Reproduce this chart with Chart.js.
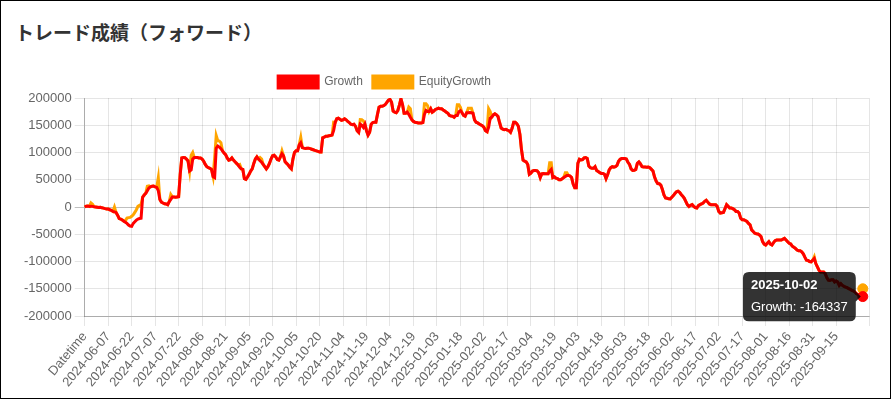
<!DOCTYPE html>
<html>
<head>
<meta charset="utf-8">
<title>トレード成績（フォワード）</title>
<script src="https://cdn.jsdelivr.net/npm/chart.js@4.4.1/dist/chart.umd.min.js"></script>
<style>
  html, body { margin: 0; padding: 0; background: #fff; }
  .panel { position: relative; width: 891px; height: 399px; box-sizing: border-box; border: 1px solid #000; overflow: hidden; background: #fff; }
  .panel h2 { position: absolute; left: 14px; top: 18px; margin: 0; font: bold 19px 'Noto Sans CJK JP', sans-serif; line-height: 26px; color: #333; }
  .chart-box { position: absolute; left: 20px; top: 65px; }
</style>
</head>
<body>
<div class="panel">
  <h2>トレード成績（フォワード）</h2>
  <div class="chart-box"><canvas id="growthChart" width="863" height="327"></canvas></div>
</div>
<script>
// trade results (forward test)

// categories: header row + one label per day (axis runs a few days past the data)
const headerLabel = 'Datetime';
const firstDay = '2024-05-24';
const axisEndDay = '2025-10-06';

const growth = [
  0,
  1500, 2000, 1000, 1500, 1200, 500, 0, -500, -1000, -500,
  -1500, -2000, -3000, -3500, -3700, -5000, -6000, -8000, -9000, -10000,
  -15000, -21000, -22000, -24000, -26000, -28000, -30000, -33000, -35000, -35500,
  -30000, -27000, -24000, -22000, -21000, -20500, 18000, 22000, 25000, 30000,
  35000, 37000, 38000, 38300, 37000, 36000, 30000, 14000, 9000, 7400,
  6000, 5600, 4300, 10000, 14000, 18500, 18500, 18000, 18500, 19000,
  60000, 90000, 91000, 90700, 88000, 84500, 66000, 68000, 88000, 90700,
  90700, 90700, 90000, 90000, 88000, 84000, 78000, 74000, 72000, 71000,
  69000, 56000, 54000, 108000, 112000, 110000, 107000, 103000, 99000, 96000,
  90000, 86000, 87000, 90000, 86000, 83000, 80000, 77000, 73000, 70000,
  69000, 52000, 50600, 55000, 60000, 66000, 70000, 80000, 88000, 92000,
  88000, 85000, 82000, 78000, 74000, 70000, 74000, 80000, 88000, 94000,
  95000, 92000, 87000, 86000, 92000, 98000, 94000, 83000, 80000, 77000,
  73000, 70000, 88000, 100000, 103000, 103000, 114000, 118000, 109000, 108000,
  107500, 108000, 108000, 107000, 106000, 105000, 104000, 103000, 102000, 101000,
  101000, 127000, 128000, 130000, 130000, 130800, 131000, 132000, 140000, 155000,
  162000, 163000, 161000, 159000, 160000, 162000, 160000, 157000, 155000, 152000,
  151000, 152000, 148000, 140000, 137000, 152000, 150000, 146000, 152000, 140000,
  132000, 137000, 152000, 155000, 155500, 155500, 170000, 183000, 185000, 185000,
  186000, 188000, 192000, 196000, 197400, 192000, 176000, 174000, 173000, 177000,
  187000, 198700, 188000, 172000, 172000, 174000, 170000, 164700, 160000, 157000,
  155500, 155000, 154300, 154300, 154300, 155000, 170000, 177100, 175200, 175200,
  180200, 174000, 176000, 179000, 180200, 181400, 180200, 180200, 178000, 176000,
  174000, 172000, 168000, 167000, 166600, 164700, 167800, 167800, 175000, 177000,
  173000, 168000, 166600, 173000, 173000, 173500, 173000, 172000, 160000, 155500,
  154300, 152400, 150500, 149300, 146200, 140100, 138200, 146200, 163000, 165000,
  169000, 171000, 169100, 166000, 155000, 145000, 143000, 142000, 142500, 141000,
  140000, 137000, 144400, 155500, 155500, 153000, 148000, 133000, 105000, 86000,
  84000, 82700, 78000, 60000, 62000, 66000, 67000, 67000, 66500, 63000,
  54000, 61000, 61500, 61100, 61100, 61000, 66000, 69000, 54000, 55500,
  53000, 52000, 50000, 50000, 52000, 54000, 56000, 58000, 58000, 57000,
  54000, 42000, 35200, 35200, 80000, 87600, 86400, 87000, 90000, 90700,
  89000, 75000, 72000, 71000, 71000, 74000, 67000, 65000, 63000, 61700,
  61700, 60000, 52000, 59000, 68000, 72200, 74000, 73000, 74000, 76500,
  84000, 87600, 88800, 88800, 88800, 88000, 82000, 78000, 70000, 67000,
  67500, 69000, 80000, 82700, 79000, 74000, 73400, 73400, 73000, 73400,
  72000, 69000, 66000, 55000, 47500, 43000, 42600, 40000, 32000, 22000,
  16700, 16000, 15000, 14800, 18000, 21000, 24700, 28000, 29000, 27000,
  23000, 20000, 16000, 10000, 4000, 1000, 3000, 4300, 1200, -1000,
  -1900, 2500, 4300, 5600, 7400, 10500, 12300, 9000, 5600, 4300,
  4300, 4300, 4300, 1200, -8000, -11100, -10500, -9900, -3000, 4300,
  1200, -1900, -1900, -3000, -4900, -8000, -8000, -11100, -20400, -23400,
  -23400, -24700, -26500, -30000, -32700, -42000, -45000, -48100, -49000, -49400,
  -51200, -54300, -63600, -67900, -69700, -66600, -63600, -67900, -69700, -65400,
  -61700, -60500, -60500, -60500, -60500, -59000, -57400, -60500, -63600, -66600,
  -67900, -72000, -74000, -75900, -79000, -80200, -80200, -82100, -86000, -92000,
  -97500, -98000, -100000, -100600, -97500, -94400, -103700, -109800, -116000, -119100,
  -119100, -119100, -122200, -129600, -134000, -134500, -133300, -133300, -137600, -135700,
  -137600, -143800, -140700, -143800, -145600, -146800, -148000, -149900, -151000, -153000,
  -154000, -156100, -159200, -160400, -162300, -163000, -164337
];

const equityGrowth = [
  0,
  1500, 2000, 1000, 7400, 5000, 500, 0, -500, -1000, -500,
  -1500, -2000, -3000, -3500, -3700, -5000, -6000, -8000, 0, -10000,
  -15000, -21000, -22000, -24000, -26000, -25000, -20400, -19500, -19000, -17000,
  -14200, -10000, -5000, 1200, 3000, 4300, 18000, 22000, 25000, 38300,
  39000, 37000, 38000, 38300, 37000, 36000, 53700, 14000, 9000, 7400,
  6000, 5600, 4300, 10000, 22800, 18500, 18500, 18000, 18500, 19000,
  60000, 90000, 91000, 90700, 88000, 84500, 66000, 95000, 100000, 90700,
  90700, 90700, 90000, 90000, 88000, 84000, 78000, 74000, 72000, 71000,
  69000, 56000, 90000, 130800, 121500, 121000, 118000, 103000, 99000, 96000,
  90000, 86000, 87000, 90000, 86000, 83000, 80000, 77000, 78000, 70000,
  69000, 52000, 50600, 55000, 60000, 66000, 70000, 80000, 88000, 92000,
  88000, 90700, 88000, 78000, 74000, 70000, 74000, 80000, 88000, 94000,
  95000, 92000, 87000, 86000, 92000, 103000, 94000, 83000, 80000, 77000,
  73000, 70000, 88000, 100000, 103000, 103000, 114000, 127700, 109000, 108000,
  107500, 108000, 108000, 107000, 106000, 105000, 104000, 103000, 102000, 101000,
  101000, 127000, 128000, 130000, 130000, 130800, 131000, 132000, 155500, 155000,
  162000, 163000, 161000, 159000, 160000, 162000, 160000, 157000, 155000, 152000,
  151000, 152000, 148000, 140000, 137000, 160400, 160000, 158000, 152000, 140000,
  132000, 137000, 152000, 155000, 155500, 155500, 170000, 183000, 185000, 185000,
  186000, 188000, 192000, 196000, 197400, 192000, 176000, 174000, 173000, 177000,
  187000, 198700, 188000, 172000, 172000, 174000, 183200, 180200, 160000, 157000,
  155500, 155000, 154300, 154300, 154300, 155000, 189400, 189400, 186000, 175200,
  180200, 174000, 176000, 179000, 180200, 181400, 180200, 180200, 178000, 176000,
  174000, 172000, 168000, 167000, 166600, 164700, 167800, 187600, 187600, 183000,
  173000, 168000, 166600, 173000, 181400, 181400, 181400, 172000, 160000, 155500,
  154300, 152400, 150500, 149300, 146200, 140100, 138200, 180200, 175000, 165000,
  169000, 171000, 169100, 166000, 155000, 145000, 143000, 142000, 142500, 141000,
  140000, 137000, 144400, 155500, 155500, 153000, 148000, 133000, 105000, 86000,
  84000, 82700, 78000, 60000, 62000, 66000, 67000, 67000, 66500, 63000,
  54000, 61000, 61500, 61100, 61100, 61000, 81400, 81400, 54000, 55500,
  53000, 52000, 50000, 50000, 52000, 54000, 62900, 62900, 58000, 57000,
  54000, 42000, 35200, 35200, 80000, 87600, 86400, 87000, 90000, 90700,
  89000, 75000, 72000, 71000, 71000, 74000, 67000, 65000, 63000, 61700,
  61700, 60000, 52000, 59000, 68000, 72200, 74000, 73000, 74000, 76500,
  84000, 87600, 88800, 88800, 88800, 88000, 82000, 78000, 70000, 67000,
  67500, 69000, 80000, 82700, 79000, 74000, 73400, 73400, 73000, 73400,
  72000, 69000, 66000, 55000, 47500, 43000, 42600, 40000, 32000, 22000,
  16700, 16000, 15000, 14800, 18000, 21000, 24700, 28000, 29000, 27000,
  23000, 20000, 16000, 10000, 4000, 1000, 3000, 4300, 1200, -1000,
  -1900, 2500, 4300, 5600, 7400, 10500, 12300, 9000, 5600, 4300,
  4300, 4300, 4300, 1200, -8000, -11100, -10500, -9900, -3000, 4300,
  1200, -1900, -1900, -3000, -4900, -8000, -8000, -11100, -20400, -23400,
  -23400, -24700, -26500, -30000, -32700, -42000, -45000, -48100, -49000, -49400,
  -51200, -54300, -63600, -67900, -69700, -66600, -63600, -67900, -69700, -65400,
  -61700, -60500, -60500, -60500, -60500, -59000, -57400, -60500, -63600, -66600,
  -67900, -72000, -74000, -75900, -79000, -80200, -80200, -82100, -86000, -92000,
  -97500, -98000, -100000, -100600, -97500, -91300, -103700, -109800, -116000, -119100,
  -119100, -119100, -122200, -129600, -134000, -134500, -133300, -133300, -137600, -135700,
  -137600, -143800, -140700, -143800, -145600, -146800, -148000, -149900, -151000, -153000,
  -154000, -156100, -159200, -160400, -162300, -158000, -150000
];

// y axis range
const yMin = -200000;
const yMax = 200000;
const yStep = 50000;
const labelEvery = 15;

// build the daily labels
const labels = [headerLabel];
for (let d = new Date(firstDay + 'T00:00:00Z'); d <= new Date(axisEndDay + 'T00:00:00Z'); d.setUTCDate(d.getUTCDate() + 1)) {
    labels.push(d.toISOString().slice(0, 10));
}
const lastDataIndex = growth.length - 1;

Chart.defaults.font.family = "Arial, 'Liberation Sans', Helvetica, sans-serif";
Chart.defaults.font.size = 13;
Chart.defaults.color = '#666';

// move the legend row a bit to the left like the original page
const legendShift = {
    id: 'legendShift',
    afterLayout(chart) {
        chart.legend.left -= 64;
        chart.legend.right -= 64;
    }
};

const ctx = document.getElementById('growthChart').getContext('2d');
const growthChart = new Chart(ctx, {
    type: 'line',
    data: {
        labels: labels,
        datasets: [{
            label: 'Growth',
            data: growth,
            borderColor: 'red',
            backgroundColor: 'red',
            borderWidth: 3,
            pointRadius: 0,
            pointHoverRadius: 5,
            pointHoverBorderWidth: 1,
            pointHoverBackgroundColor: 'red',
            pointHoverBorderColor: 'red',
            tension: 0,
            fill: false
        }, {
            label: 'EquityGrowth',
            data: equityGrowth,
            borderColor: 'orange',
            backgroundColor: 'orange',
            borderWidth: 3,
            pointRadius: 0,
            pointHoverRadius: 5,
            pointHoverBorderWidth: 1,
            pointHoverBackgroundColor: 'orange',
            pointHoverBorderColor: 'orange',
            tension: 0,
            fill: false
        }]
    },
    options: {
        responsive: false,
        animation: false,
        events: [],
        layout: { padding: { top: 0, right: 8, bottom: 0, left: 0 } },
        plugins: {
            legend: {
                labels: { font: { size: 12 }, boxWidth: 40, boxHeight: 12, padding: 10 }
            },
            tooltip: {
                displayColors: false,
                backgroundColor: 'rgba(0,0,0,0.8)',
                padding: { x: 8, y: 6 },
                titleFont: { size: 13, weight: 'bold' },
                bodyFont: { size: 13 },
                callbacks: {
                    label: (item) => item.dataset.label + ': ' + item.raw
                }
            }
        },
        scales: {
            x: {
                border: { color: 'rgba(0,0,0,0.25)' },
                grid: { color: 'rgba(0,0,0,0.1)', tickLength: 10 },
                ticks: {
                    autoSkip: false,
                    minRotation: 50,
                    maxRotation: 50,
                    // every 15th day gets a label, the last tick only a grid line
                    callback: function (value, index, ticks) {
                        const count = ticks.length;
                        if (index === count - 1) return '';
                        if (index % labelEvery === 0 && index + labelEvery < count) return this.getLabelForValue(value);
                        return null;
                    }
                }
            },
            y: {
                min: yMin,
                max: yMax,
                border: { color: 'rgba(0,0,0,0.25)' },
                grid: {
                    tickLength: 10,
                    color: (c) => (c.tick && c.tick.value === 0) ? 'rgba(0,0,0,0.25)' : 'rgba(0,0,0,0.1)'
                },
                ticks: {
                    stepSize: yStep,
                    padding: 3,
                    callback: (value) => String(value)
                }
            }
        }
    },
    plugins: [legendShift]
});

// show the hover state on the last day like the screenshot
growthChart.setActiveElements([
    { datasetIndex: 0, index: lastDataIndex },
    { datasetIndex: 1, index: lastDataIndex }
]);
growthChart.tooltip.setActiveElements([{ datasetIndex: 0, index: lastDataIndex }], { x: 0, y: 0 });
growthChart.update();
</script>
</body>
</html>
